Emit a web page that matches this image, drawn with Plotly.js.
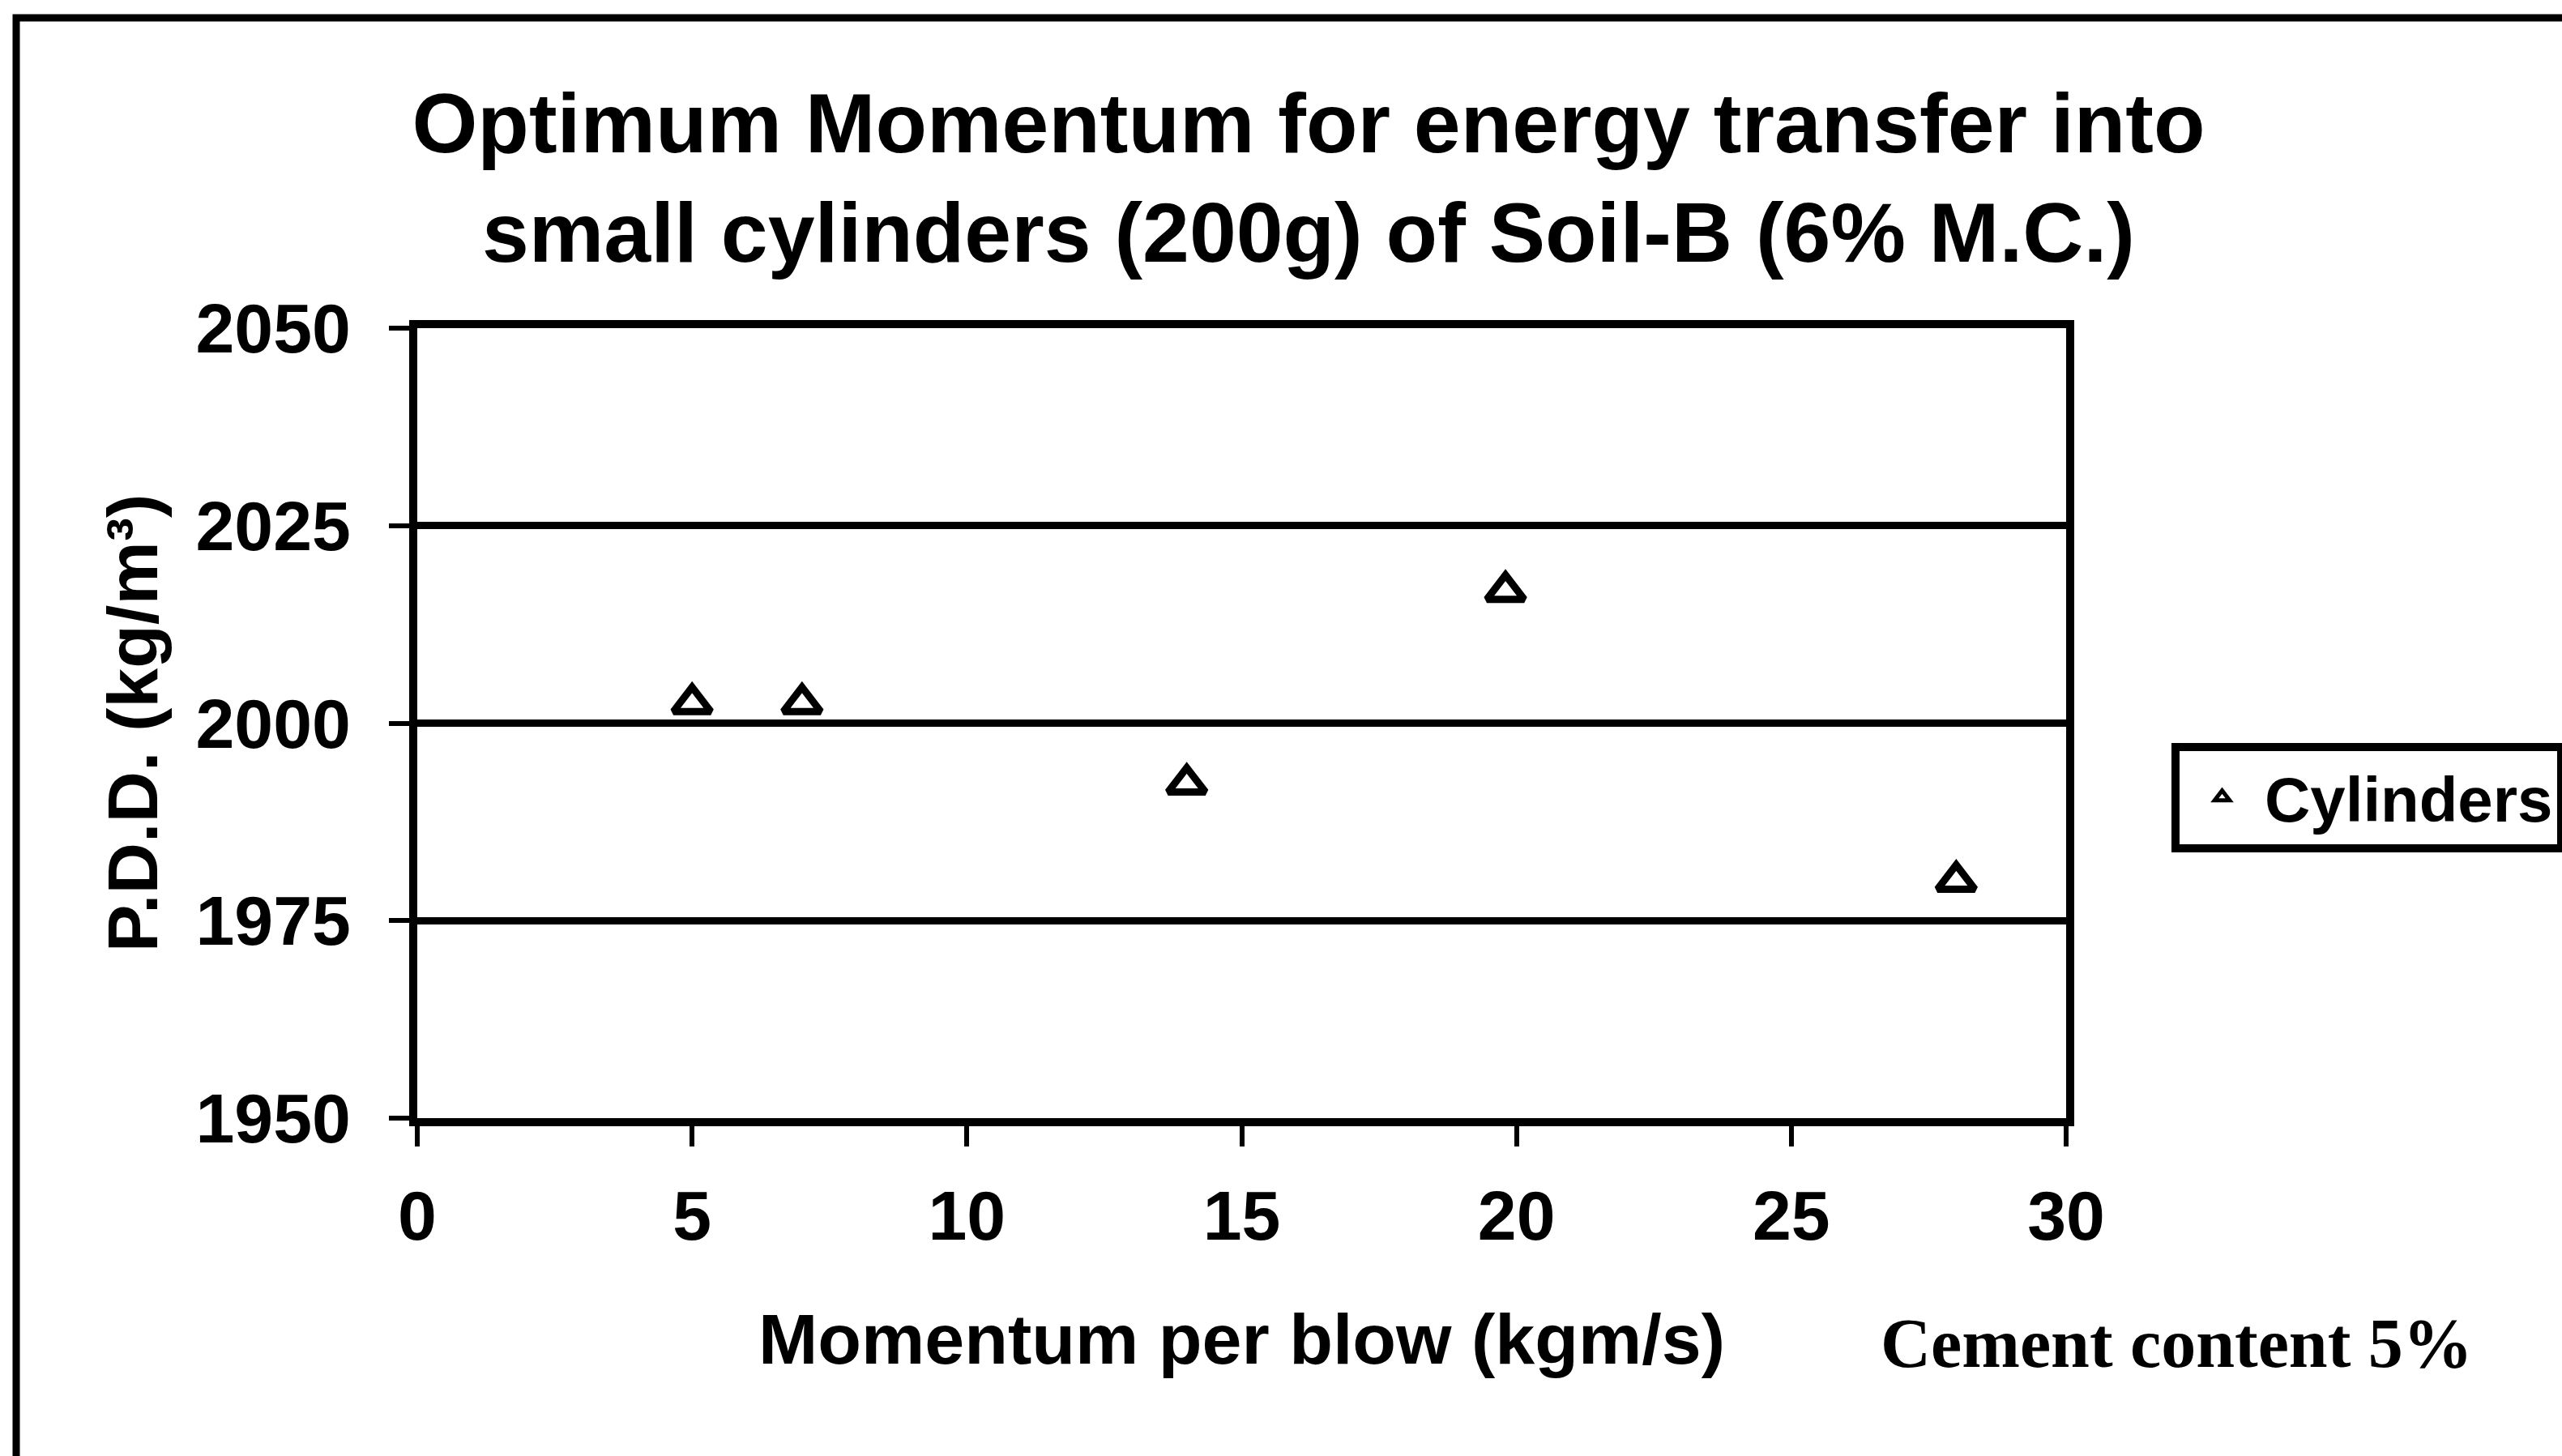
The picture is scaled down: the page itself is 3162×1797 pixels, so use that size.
<!DOCTYPE html>
<html>
<head>
<meta charset="utf-8">
<script src="https://cdn.plot.ly/plotly-3.0.1.min.js"></script>
<style>
html,body{margin:0;padding:0;background:#fff;}
#chart{width:3162px;height:1797px;}
</style>
</head>
<body>
<div id="chart"></div>
<script>
// Data
const momentum = [5, 7, 14, 19.8, 28];          // Momentum per blow (kgm/s)
const pdd = [2002.5, 2002.5, 1992.3, 2016.7, 1980]; // P.D.D. (kg/m³)
const seriesName = "Cylinders";
const xTicks = [0, 5, 10, 15, 20, 25, 30];
const yTicks = [1950, 1975, 2000, 2025, 2050];
const titleLines = ["Optimum Momentum for energy transfer into", "small cylinders (200g) of Soil-B (6% M.C.)"];
const xTitle = "Momentum per blow (kgm/s)";
const yTitle = "P.D.D. (kg/m³)";
const note = "Cement content 5%";

const SANS = "'Liberation Sans', Arial, sans-serif";
const SERIF = "'Liberation Serif', 'Times New Roman', serif";

const trace = {
  type: "scatter",
  mode: "markers",
  x: momentum,
  y: pdd,
  name: seriesName,
  marker: {
    symbol: "triangle-up-open",
    size: 40,
    color: "#000",
    line: {color: "#000", width: 9}
  },
  showlegend: true
};

const layout = {
  width: 3162,
  height: 1797,
  paper_bgcolor: "#fff",
  plot_bgcolor: "#fff",
  margin: {l: 515, r: 612, t: 405, b: 417, autoexpand: false},
  showlegend: true,
  title: {
    text: titleLines.join("<br>"),
    font: {family: SANS, size: 104, color: "#000", weight: "bold"},
    x: 1615 / 3162,
    xanchor: "center",
    xref: "container",
    y: 1 - 188 / 1797,
    yref: "container",
    yanchor: "middle"
  },
  xaxis: {
    range: [0, 30],
    tickvals: xTicks,
    ticktext: xTicks.map(String),
    ticks: "outside",
    ticklen: 25,
    tickwidth: 6,
    tickcolor: "#000",
    ticklabelstandoff: 12,
    showline: true,
    linecolor: "#000",
    linewidth: 10,
    mirror: true,
    showgrid: false,
    zeroline: false,
    tickfont: {family: SANS, size: 86, color: "#000", weight: "bold"},
    title: {
      text: xTitle,
      font: {family: SANS, size: 88, color: "#000", weight: "bold"},
      standoff: 78
    }
  },
  yaxis: {
    range: [1950, 2050],
    tickvals: yTicks,
    ticktext: yTicks.map(String),
    ticks: "outside",
    ticklen: 25,
    tickwidth: 6,
    tickcolor: "#000",
    ticklabelstandoff: 30,
    showline: true,
    linecolor: "#000",
    linewidth: 10,
    mirror: true,
    showgrid: true,
    gridcolor: "#000",
    gridwidth: 9,
    zeroline: false,
    tickfont: {family: SANS, size: 86, color: "#000", weight: "bold"},
    title: {
      text: yTitle,
      font: {family: SANS, size: 88, color: "#000", weight: "bold"},
      standoff: 22
    }
  },
  legend: {
    xref: "container",
    yref: "container",
    x: 2680 / 3162,
    xanchor: "left",
    y: 1 - 984 / 1797,
    yanchor: "middle",
    bgcolor: "#fff",
    bordercolor: "#000",
    borderwidth: 10,
    itemwidth: 95,
    font: {family: SANS, size: 78, color: "#000", weight: "bold"}
  },
  annotations: [{
    text: note,
    xref: "paper", yref: "paper",
    x: (2686 - 515) / 2035,
    y: (1380 - 1658) / 975,
    xanchor: "center", yanchor: "middle",
    showarrow: false,
    font: {family: SERIF, size: 86, color: "#000", weight: "bold"}
  }],
  shapes: [{
    type: "rect",
    xref: "paper", yref: "paper",
    x0: (20 - 515) / 2035,
    x1: (3250 - 515) / 2035,
    y0: (1380 - 1900) / 975,
    y1: (1380 - 22) / 975,
    line: {color: "#000", width: 9},
    fillcolor: "rgba(0,0,0,0)",
    layer: "below"
  }]
};

Plotly.newPlot("chart", [trace], layout, {displayModeBar: false, staticPlot: true});
</script>
</body>
</html>
